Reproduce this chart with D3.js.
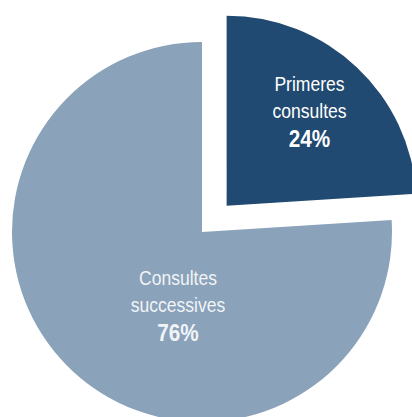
<!DOCTYPE html>
<html><head><meta charset="utf-8">
<script src="https://cdn.jsdelivr.net/npm/d3@7/dist/d3.min.js"></script>
<style>html,body{margin:0;padding:0;background:#fff;overflow:hidden}</style>
</head><body>
<svg id="chart" width="412" height="417"></svg>
<script>
const categories = ["Primeres consultes", "Consultes successives"];
const labelLines = [["Primeres", "consultes"], ["Consultes", "successives"]];
const values = [24, 76];
const colors = ["#204a71", "#8aa2ba"];

const svg = d3.select("#chart");
const cx = 202, cy = 232, R = 190, explode = 36;
const g = svg.append("g").attr("transform", `translate(${cx},${cy})`);

const pie = d3.pie().sort(null).value(d => d.v);
const arcs = pie(values.map((v, i) => ({v, i})));
const arc = d3.arc().innerRadius(0).outerRadius(R);
const total = d3.sum(values);

function offsetFor(d) {
  if (d.index !== 0) return [0, 0];
  const a = (d.startAngle + d.endAngle) / 2;
  return [Math.sin(a) * explode, -Math.cos(a) * explode];
}

const slices = g.selectAll("g.slice").data(arcs).join("g")
  .attr("class", "slice")
  .attr("transform", d => { const o = offsetFor(d); return `translate(${o[0]},${o[1]})`; });

slices.append("path").attr("d", arc).attr("fill", (d, i) => colors[i]);

// label placement (anchor = baseline of the middle line)
function labelPos(d) {
  if (d.index === 0) {
    const a = (d.startAngle + d.endAngle) / 2, r = 121;
    return [Math.sin(a) * r, -Math.cos(a) * r];
  }
  const a = 196.7 * Math.PI / 180, r = 83.5;
  return [Math.sin(a) * r, -Math.cos(a) * r];
}

slices.each(function(d) {
  const [x, y] = labelPos(d);
  const t = d3.select(this).append("text")
    .attr("text-anchor", "middle")
    .attr("font-family", "'Liberation Sans', Arial, sans-serif")
    .attr("font-size", 19.5)
    .attr("fill", d.index === 0 ? "#ffffff" : "#f1f4f7")
    .attr("transform", `translate(${x},${y}) scale(0.9,1)`);
  const lines = labelLines[d.index];
  t.append("tspan").attr("x", 0).attr("y", -26.5).text(lines[0]);
  t.append("tspan").attr("x", 0).attr("y", 0).text(lines[1]);
  t.append("tspan").attr("x", 0).attr("y", 29)
    .attr("font-weight", "bold").attr("font-size", 23)
    .text(Math.round(d.data.v / total * 100) + "%");
});
</script>
</body></html>
